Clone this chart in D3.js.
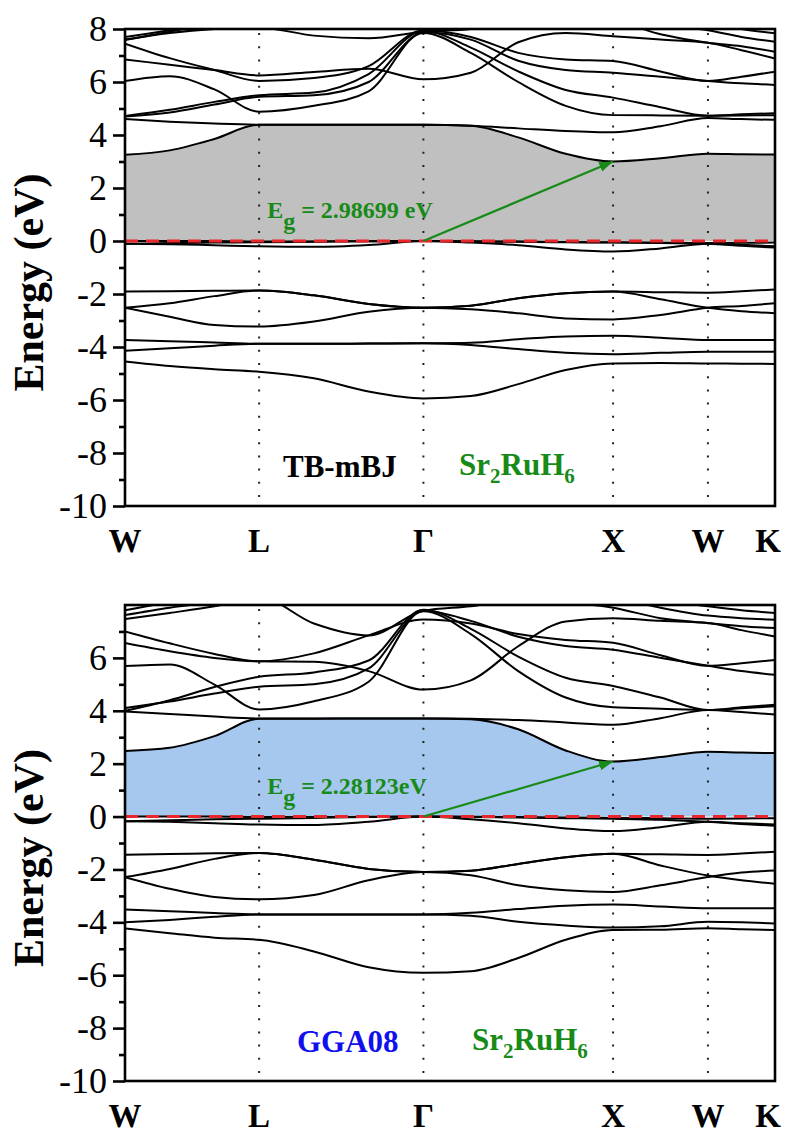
<!DOCTYPE html>
<html>
<head>
<meta charset="utf-8">
<title>Sr2RuH6 band structure</title>
<script src="https://cdn.jsdelivr.net/npm/d3@7"></script>
<style>
  body { margin: 0; background: #fff; }
  text { font-family: "Liberation Serif", "Times New Roman", serif; }
</style>
</head>
<body>
<script>
// k path W-L-Gamma-X-W-K, node positions in units of 2pi/a
var kLabels = ["W", "L", "\u0393", "X", "W", "K"]
var kNodes = [0, 0.7071, 1.5731, 2.5731, 3.0731, 3.4267]
// sample points along the path where band energies were read
var kGrid = [0, 0.2357, 0.4714, 0.7071, 0.9958, 1.2844, 1.5731, 1.8231, 2.0731, 2.3231, 2.5731, 2.8231, 3.0731, 3.2499, 3.4267]

var yMajorTop = [-10, -8, -6, -4, -2, 0, 2, 4, 6, 8]
var yMajorBottom = [-10, -8, -6, -4, -2, 0, 2, 4, 6]
var yMinor = [-9, -7, -5, -3, -1, 1, 3, 5, 7]

// TB-mBJ bands (eV)
var tbValence = [
  [0, 0, 0, -0.02, -0.02, -0.01, 0, -0.01, -0.02, -0.04, -0.05, -0.06, -0.08, -0.07, -0.06],
  [-0.1, -0.12, -0.16, -0.2, -0.22, -0.15, 0, -0.06, -0.16, -0.32, -0.4, -0.28, -0.1, -0.14, -0.2],
  [-0.1, -0.08, -0.06, -0.05, -0.03, -0.01, 0, -0.02, -0.03, -0.05, -0.06, -0.08, -0.1, -0.18, -0.25],
  [-1.91, -1.9, -1.88, -1.87, -2.05, -2.38, -2.52, -2.44, -2.16, -1.97, -1.91, -1.93, -1.95, -1.9, -1.83],
  [-2.52, -2.35, -2.08, -1.87, -2.05, -2.38, -2.52, -2.44, -2.16, -1.97, -1.91, -2.2, -2.52, -2.65, -2.73],
  [-2.52, -2.86, -3.17, -3.23, -3.04, -2.67, -2.52, -2.58, -2.73, -2.92, -2.96, -2.79, -2.52, -2.45, -2.35],
  [-3.74, -3.78, -3.83, -3.88, -3.88, -3.87, -3.86, -3.84, -3.71, -3.6, -3.58, -3.65, -3.74, -3.74, -3.74],
  [-4.14, -4.05, -3.95, -3.88, -3.88, -3.87, -3.86, -3.92, -4.08, -4.22, -4.27, -4.22, -4.18, -4.18, -4.18],
  [-4.55, -4.72, -4.84, -4.93, -5.18, -5.68, -5.94, -5.85, -5.4, -4.87, -4.62, -4.6, -4.62, -4.63, -4.64]
]
var tbConduction = [
  [3.25, 3.42, 3.85, 4.39, 4.39, 4.39, 4.39, 4.35, 3.91, 3.29, 3.0, 3.12, 3.29, 3.27, 3.26],
  [4.6, 4.5, 4.43, 4.39, 4.39, 4.39, 4.39, 4.35, 4.25, 4.15, 4.1, 4.33, 4.64, 4.6, 4.57],
  [4.7, 4.85, 5.15, 5.44, 5.5, 6.0, 7.85, 7.1, 6.0, 5.1, 4.75, 4.74, 4.73, 4.74, 4.75],
  [4.72, 4.95, 5.25, 5.5, 5.6, 6.3, 7.92, 7.3, 6.4, 5.7, 5.41, 5.05, 4.73, 4.78, 4.82],
  [6.04, 6.22, 5.72, 4.88, 5.1, 5.65, 7.88, 7.6, 6.8, 6.45, 6.35, 6.2, 6.04, 5.95, 5.89],
  [6.85, 6.65, 6.45, 6.25, 6.38, 6.5, 6.1, 6.35, 7.5, 7.85, 7.73, 7.6, 7.48, 7.2, 6.89],
  [7.45, 6.9, 6.45, 6.04, 6.15, 6.6, 7.95, 7.7, 7.1, 6.85, 6.79, 6.4, 6.04, 6.2, 6.39],
  [7.6, 7.85, 8.0, 8.05, 7.75, 7.65, 7.9, 8.0, 8.3, 8.4, 8.3, 7.8, 7.48, 7.35, 7.14],
  [7.58, 7.9, 8.2, 8.4, 8.4, 8.2, 8.05, 8.3, 8.6, 8.7, 8.6, 8.2, 7.95, 7.7, 7.52],
  [7.7, 7.95, 8.2, 8.4, 8.5, 8.5, 8.4, 8.6, 8.8, 8.8, 8.6, 8.4, 8.3, 8.0, 7.84]
]

// GGA08 bands (eV)
var ggValence = [
  [0, 0, 0, -0.02, -0.02, -0.01, 0, -0.01, -0.02, -0.04, -0.05, -0.06, -0.08, -0.07, -0.06],
  [-0.18, -0.2, -0.25, -0.3, -0.32, -0.2, 0, -0.1, -0.25, -0.45, -0.55, -0.4, -0.2, -0.25, -0.3],
  [-0.18, -0.14, -0.1, -0.08, -0.05, -0.02, 0, -0.02, -0.04, -0.06, -0.08, -0.12, -0.2, -0.28, -0.35],
  [-1.44, -1.42, -1.39, -1.38, -1.63, -1.98, -2.1, -2.05, -1.79, -1.54, -1.41, -1.43, -1.45, -1.4, -1.33],
  [-2.29, -1.98, -1.6, -1.38, -1.63, -1.98, -2.1, -2.05, -1.79, -1.54, -1.41, -1.85, -2.23, -2.41, -2.54],
  [-2.29, -2.73, -3.04, -3.13, -2.97, -2.41, -2.1, -2.22, -2.6, -2.79, -2.85, -2.6, -2.29, -2.12, -2.04],
  [-3.51, -3.58, -3.65, -3.7, -3.7, -3.7, -3.7, -3.64, -3.5, -3.37, -3.33, -3.4, -3.47, -3.47, -3.47],
  [-4.0, -3.91, -3.79, -3.7, -3.7, -3.7, -3.7, -3.75, -3.98, -4.12, -4.2, -4.15, -3.98, -4.0, -4.04],
  [-4.23, -4.41, -4.58, -4.66, -5.1, -5.7, -5.91, -5.85, -5.35, -4.66, -4.29, -4.28, -4.22, -4.26, -4.29]
]
var ggConduction = [
  [2.48, 2.6, 3.04, 3.7, 3.7, 3.71, 3.71, 3.68, 3.3, 2.5, 2.08, 2.25, 2.45, 2.42, 2.4],
  [3.97, 3.88, 3.78, 3.71, 3.71, 3.71, 3.71, 3.7, 3.65, 3.56, 3.47, 3.72, 4.03, 3.95, 3.86],
  [4.1, 4.35, 4.65, 4.91, 5.0, 5.6, 7.76, 6.9, 5.5, 4.5, 4.13, 4.08, 4.03, 4.1, 4.17],
  [4.0, 4.4, 4.9, 5.29, 5.45, 5.9, 7.82, 7.1, 6.05, 5.25, 4.94, 4.5, 4.03, 4.13, 4.23],
  [5.69, 5.75, 4.99, 4.05, 4.36, 5.1, 7.78, 7.4, 6.8, 6.45, 6.31, 6.0, 5.7, 5.5, 5.36],
  [6.56, 6.25, 6.0, 5.87, 5.85, 5.5, 4.8, 5.15, 6.44, 7.38, 7.5, 7.4, 7.32, 7.05, 6.81],
  [7.0, 6.55, 6.15, 5.87, 6.17, 6.85, 7.45, 7.3, 6.9, 6.68, 6.57, 6.1, 5.7, 5.8, 5.92],
  [7.47, 7.7, 7.95, 8.3, 7.3, 6.85, 7.78, 7.95, 8.2, 8.1, 7.9, 7.5, 7.32, 7.2, 7.13],
  [7.62, 7.9, 8.1, 8.3, 8.1, 8.0, 8.2, 8.5, 8.6, 8.5, 8.3, 7.9, 7.6, 7.5, 7.44],
  [7.8, 8.1, 8.3, 8.5, 8.5, 8.4, 8.4, 8.7, 8.8, 8.7, 8.5, 8.2, 7.95, 7.8, 7.7]
]

var green = "#178a17"

var svg = d3.select("body").append("svg")
  .attr("width", 794)
  .attr("height", 1135)

svg.append("defs").append("marker")
  .attr("id", "head")
  .attr("markerUnits", "userSpaceOnUse")
  .attr("markerWidth", 16).attr("markerHeight", 12)
  .attr("refX", 14).attr("refY", 5)
  .attr("orient", "auto")
  .append("path")
    .attr("d", "M0,0 L14,5 L0,10 Z")
    .attr("fill", green)

function drawPanel(p) {
  var x = d3.scaleLinear().domain([0, kNodes[kNodes.length - 1]]).range([125, 775])
  var y = d3.scaleLinear().domain([-10, 8]).range([p.bottom, p.top])
  var g = svg.append("g")

  g.append("clipPath").attr("id", p.id)
    .append("rect")
      .attr("x", 125).attr("y", p.top)
      .attr("width", 650).attr("height", p.bottom - p.top)

  var plot = g.append("g").attr("clip-path", "url(#" + p.id + ")")

  var line = d3.line()
    .x(function(d, i) { return x(kGrid[i]) })
    .y(function(d) { return y(d) })
    .curve(d3.curveMonotoneX)

  var area = d3.area()
    .x(function(d, i) { return x(kGrid[i]) })
    .y0(y(0))
    .y1(function(d) { return y(d) })
    .curve(d3.curveMonotoneX)

  // gap shading between VBM and lowest conduction band
  plot.append("path")
    .attr("d", area(p.cond[0]))
    .attr("fill", p.fill)

  plot.selectAll("line.sym")
    .data(kNodes.slice(1, -1))
    .enter()
    .append("line")
      .attr("x1", d => x(d)).attr("x2", d => x(d))
      .attr("y1", p.top + 4).attr("y2", p.bottom)
      .attr("stroke", "#222")
      .attr("stroke-width", 2)
      .attr("stroke-dasharray", "2,11.2")

  plot.selectAll("path.band")
    .data(p.val.concat(p.cond))
    .enter()
    .append("path")
      .attr("d", d => line(d))
      .attr("fill", "none")
      .attr("stroke", "#000")
      .attr("stroke-width", 2)

  plot.append("line")
    .attr("x1", 125).attr("x2", 775)
    .attr("y1", y(0)).attr("y2", y(0))
    .attr("stroke", "#e8262b")
    .attr("stroke-width", 3)
    .attr("stroke-dasharray", "13,8")

  // Eg arrow Gamma -> X
  var ig = kGrid.indexOf(kNodes[2]), ix = kGrid.indexOf(kNodes[3])
  g.append("line")
    .attr("x1", x(kGrid[ig])).attr("y1", y(0))
    .attr("x2", x(kGrid[ix])).attr("y2", y(p.cond[0][ix]))
    .attr("stroke", green)
    .attr("stroke-width", 2.2)
    .attr("marker-end", "url(#head)")

  var eg = g.append("text")
    .attr("x", x(kNodes[1]) + 8)
    .attr("y", y(0.85))
    .attr("fill", green)
    .attr("font-weight", "bold")
    .attr("font-size", 24)
  eg.append("tspan").text("E")
  eg.append("tspan").attr("dy", 11).text("g")
  eg.append("tspan").attr("dy", -11).text(" = " + p.gap)

  // frame
  g.append("rect")
    .attr("x", 125).attr("y", p.top)
    .attr("width", 650).attr("height", p.bottom - p.top)
    .attr("fill", "none")
    .attr("stroke", "#000")
    .attr("stroke-width", 2.6)

  var axis = g.append("g").attr("transform", "translate(125,0)")
    .call(d3.axisLeft(y).tickValues(p.major).tickSize(12).tickSizeOuter(0)
      .tickFormat(d => String(d)))
  axis.attr("font-family", null)
  axis.select(".domain").remove()
  axis.selectAll(".tick line").attr("stroke-width", 2.6)
  axis.selectAll(".tick text")
    .attr("x", -18)
    .attr("font-size", 36)
    .attr("fill", "#000")

  var minor = g.append("g").attr("transform", "translate(125,0)")
    .call(d3.axisLeft(y).tickValues(yMinor).tickSize(6).tickFormat(""))
  minor.select(".domain").remove()
  minor.selectAll(".tick line").attr("stroke-width", 2.6)

  g.selectAll("text.klab")
    .data(kLabels)
    .enter()
    .append("text")
      .attr("x", (d, i) => x(kNodes[i]) + (i == kLabels.length - 1 ? -7 : 0))
      .attr("y", p.bottom + 46)
      .attr("text-anchor", "middle")
      .attr("font-size", 33)
      .attr("font-weight", "bold")
      .text(d => d)

  g.append("text")
    .attr("transform", "translate(43," + ((p.top + p.bottom) / 2 + 15) + ") rotate(-90)")
    .attr("text-anchor", "middle")
    .attr("font-size", 42)
    .attr("font-weight", "bold")
    .text("Energy (eV)")

  g.append("text")
    .attr("x", p.methodX).attr("y", p.bottom - 29)
    .attr("font-size", 31)
    .attr("font-weight", "bold")
    .attr("fill", p.methodColor)
    .text(p.method)

  var f = g.append("text")
    .attr("x", p.formulaX).attr("y", p.bottom - 31)
    .attr("font-size", 31)
    .attr("font-weight", "bold")
    .attr("fill", green)
  f.append("tspan").text("Sr")
  f.append("tspan").attr("dy", 8).attr("font-size", 21).text("2")
  f.append("tspan").attr("dy", -8).text("RuH")
  f.append("tspan").attr("dy", 8).attr("font-size", 21).text("6")
}

drawPanel({
  id: "clipTop", top: 29, bottom: 506,
  val: tbValence, cond: tbConduction, major: yMajorTop,
  fill: "#c0c0c0", gap: "2.98699 eV",
  method: "TB-mBJ", methodColor: "#000", methodX: 283, formulaX: 459
})

drawPanel({
  id: "clipBottom", top: 605, bottom: 1081,
  val: ggValence, cond: ggConduction, major: yMajorBottom,
  fill: "#a6c8ef", gap: "2.28123eV",
  method: "GGA08", methodColor: "#1010ee", methodX: 297, formulaX: 472
})
</script>
</body>
</html>
